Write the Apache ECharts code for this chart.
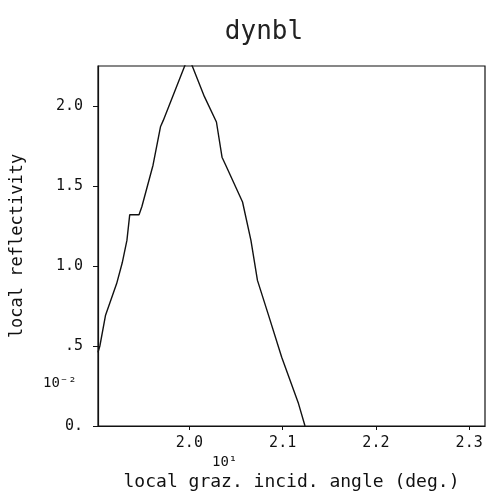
<!DOCTYPE html>
<html>
<head>
<meta charset="utf-8">
<script src="https://cdn.jsdelivr.net/npm/echarts@6/dist/echarts.min.js"></script>
<style>html,body{margin:0;padding:0;background:#fff}#c{width:490px;height:497px}</style>
</head>
<body>
<div id="c"></div>
<script>
var angles = [1.902,1.904,1.910,1.922,1.928,1.933,1.936,1.946,1.949,1.961,1.969,1.972,1.999,2.016,2.029,2.035,2.039,2.057,2.066,2.073,2.085,2.099,2.117,2.124];
var reflectivity = [0.46,0.50,0.69,0.89,1.02,1.16,1.32,1.32,1.37,1.63,1.87,1.91,2.31,2.06,1.90,1.68,1.63,1.40,1.16,0.91,0.69,0.43,0.14,0.0];
var xTicks = [2.0,2.1,2.2,2.3];
var xTickLabels = ['2.0','2.1','2.2','2.3'];
var yTicks = [0,0.5,1.0,1.5,2.0];
var yTickLabels = ['0.','.5','1.0','1.5','2.0'];

var FONT = 'DejaVu Sans Mono';
var chart = echarts.init(document.getElementById('c'));
var data = angles.map(function(a,i){return [a, reflectivity[i]];});
function lab(ticks, labels){
  return function(v){var i=ticks.findIndex(function(t){return Math.abs(t-v)<1e-6;});return i>=0?labels[i]:'';};
}
chart.setOption({
  animation:false,
  backgroundColor:'#fff',
  title:{text:'dynbl',left:259,top:14,textAlign:'center',textStyle:{fontFamily:FONT,fontSize:26,fontWeight:'normal',color:'#222'}},
  grid:{left:98,right:5,top:66,bottom:71,show:true,borderColor:'#111',borderWidth:1.2,backgroundColor:'transparent'},
  xAxis:{type:'value',min:1.902,max:2.317,
    name:'local graz. incid. angle (deg.)',nameLocation:'middle',nameGap:47,
    nameTextStyle:{fontFamily:FONT,fontSize:18,color:'#111'},
    axisLine:{show:true,lineStyle:{color:'#111',width:1.2}},
    axisTick:{show:true,length:4,customValues:xTicks,lineStyle:{color:'#111'}},
    axisLabel:{customValues:xTicks,fontFamily:FONT,fontSize:15,color:'#111',margin:10,formatter:lab(xTicks,xTickLabels)},
    splitLine:{show:false}},
  yAxis:{type:'value',min:0,max:2.25,
    name:'local reflectivity',nameLocation:'middle',nameGap:72,
    nameTextStyle:{fontFamily:FONT,fontSize:17,color:'#111'},
    axisLine:{show:true,lineStyle:{color:'#111',width:1.2}},
    axisTick:{show:true,length:5,customValues:yTicks,lineStyle:{color:'#111'}},
    axisLabel:{customValues:yTicks,fontFamily:FONT,fontSize:15,color:'#111',margin:15,formatter:lab(yTicks,yTickLabels)},
    splitLine:{show:false}},
  graphic:[
    {type:'text',left:212,top:455,style:{text:'10¹',font:'14px "DejaVu Sans Mono"',fill:'#111'}},
    {type:'text',left:43,top:376,style:{text:'10⁻²',font:'14px "DejaVu Sans Mono"',fill:'#111'}}
  ],
  series:[{type:'line',data:data,showSymbol:false,clip:true,
    lineStyle:{color:'#111',width:1.4}}]
});
</script>
</body>
</html>
